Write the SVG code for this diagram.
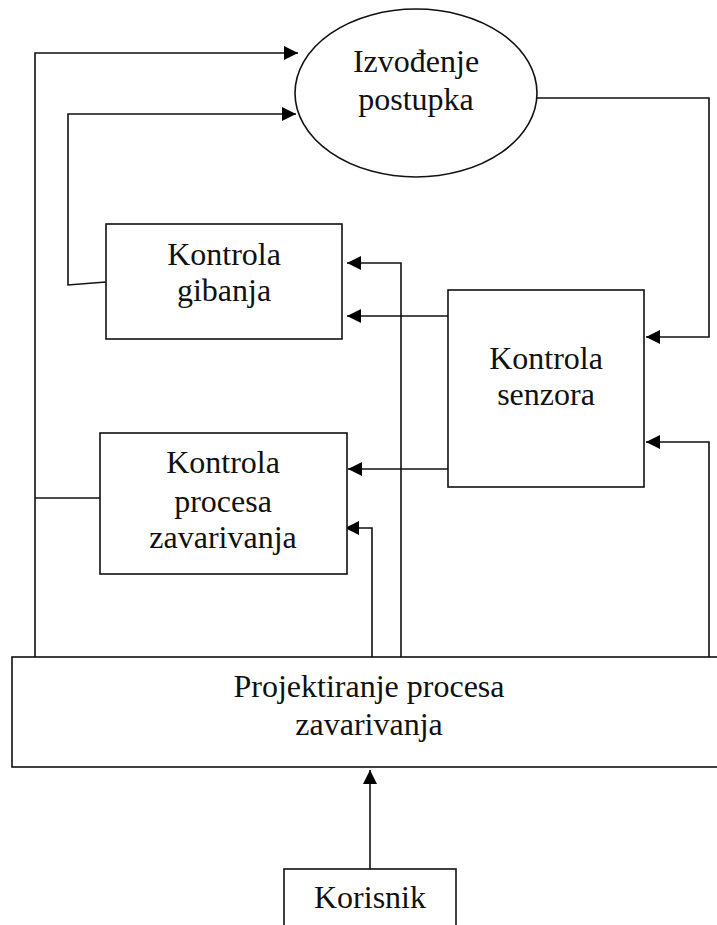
<svg xmlns="http://www.w3.org/2000/svg" width="717" height="925" viewBox="0 0 717 925">
<style>
.box{fill:#fff;stroke:#111;stroke-width:1.6}
.t{font-family:"Liberation Serif","Times New Roman",serif;font-size:32px;fill:#111;text-anchor:middle}
.c{fill:none;stroke:#111;stroke-width:1.6}
</style>
<defs>
<marker id="ah" markerUnits="userSpaceOnUse" markerWidth="15" markerHeight="14" refX="14" refY="7" orient="auto">
<path d="M0,0 L14,7 L0,14 Z" fill="#000"/>
</marker>
</defs>
<g id="connectors">
<path class="c" d="M35 657 V53 H298" marker-end="url(#ah)"/>
<path class="c" d="M106 282 L68 285 V114 H296" marker-end="url(#ah)"/>
<path class="c" d="M537 98 H709 V337 H646" marker-end="url(#ah)"/>
<path class="c" d="M709 657 V442 H646" marker-end="url(#ah)"/>
<path class="c" d="M401 657 V263 H347" marker-end="url(#ah)"/>
<path class="c" d="M448 316 H347" marker-end="url(#ah)"/>
<path class="c" d="M448 469 H348" marker-end="url(#ah)"/>
<path class="c" d="M372 657 V528 H345" marker-end="url(#ah)"/>
<path class="c" d="M100 498 H35"/>
<path class="c" d="M370 869 V770" marker-end="url(#ah)"/>
</g>
<g id="izvodenje">
<ellipse class="box" cx="416" cy="93" rx="121" ry="84"/>
<text class="t" x="416" y="72">Izvođenje</text>
<text class="t" x="416" y="110">postupka</text>
</g>
<g id="kontrola-gibanja">
<rect class="box" x="106" y="224" width="236" height="115"/>
<text class="t" x="224" y="265">Kontrola</text>
<text class="t" x="224" y="301">gibanja</text>
</g>
<g id="kontrola-senzora">
<rect class="box" x="448" y="290" width="196" height="197"/>
<text class="t" x="546" y="369">Kontrola</text>
<text class="t" x="546" y="405">senzora</text>
</g>
<g id="kontrola-procesa">
<rect class="box" x="100" y="433" width="247" height="141"/>
<text class="t" x="223" y="473">Kontrola</text>
<text class="t" x="223" y="512">procesa</text>
<text class="t" x="223" y="548">zavarivanja</text>
</g>
<g id="projektiranje">
<rect class="box" x="12" y="657" width="720" height="110"/>
<text class="t" x="369" y="697">Projektiranje procesa</text>
<text class="t" x="369" y="735">zavarivanja</text>
</g>
<g id="korisnik">
<rect class="box" x="284" y="869" width="172" height="70"/>
<text class="t" x="370" y="908">Korisnik</text>
</g>
</svg>
